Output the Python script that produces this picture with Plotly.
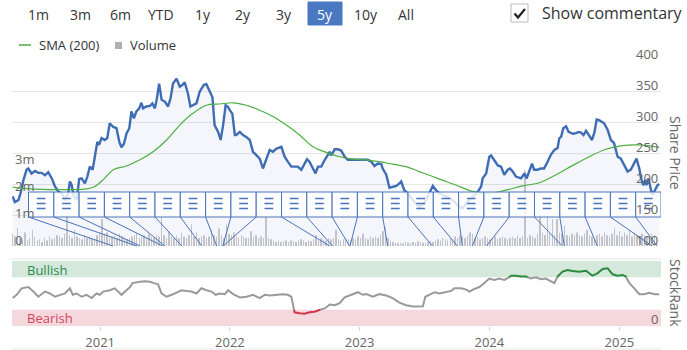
import plotly.graph_objects as go
import pandas as pd

# ---------------- DATA ----------------
price_dates = ["2020-04-30","2020-05-06","2020-05-16","2020-05-22","2020-05-30","2020-06-08","2020-06-13","2020-06-22",
"2020-07-02","2020-07-11","2020-07-20","2020-07-30","2020-08-08","2020-08-18","2020-08-27","2020-09-05","2020-09-15",
"2020-09-24","2020-10-03","2020-10-08","2020-10-13","2020-10-19","2020-10-27","2020-11-03","2020-11-10","2020-11-19",
"2020-11-26","2020-12-03","2020-12-11","2020-12-17","2020-12-24","2020-12-29","2021-01-05","2021-01-14","2021-01-21",
"2021-01-28","2021-02-07","2021-02-16","2021-02-24","2021-03-02","2021-03-09","2021-03-16","2021-03-24","2021-03-30",
"2021-04-06","2021-04-13","2021-04-21","2021-04-27","2021-05-02","2021-05-11","2021-05-21","2021-05-28","2021-06-04",
"2021-06-09","2021-06-16","2021-06-23","2021-07-02","2021-07-11","2021-07-18","2021-07-25","2021-08-04","2021-08-13",
"2021-08-21","2021-08-27","2021-09-05","2021-09-12","2021-09-19","2021-09-29","2021-10-08","2021-10-20","2021-10-27",
"2021-11-05","2021-11-13","2021-11-19","2021-11-29","2021-12-06","2021-12-13","2021-12-20","2021-12-27","2022-01-01",
"2022-01-08","2022-01-15","2022-01-19","2022-01-29","2022-02-07","2022-02-16","2022-02-26","2022-03-07","2022-03-17",
"2022-03-26","2022-04-04","2022-04-14","2022-04-23","2022-05-02","2022-05-12","2022-05-26","2022-06-04","2022-06-13",
"2022-06-23","2022-07-02","2022-07-11","2022-07-21","2022-07-30","2022-08-06","2022-08-13","2022-08-21","2022-08-30",
"2022-09-06","2022-09-15","2022-09-25","2022-10-01","2022-10-09","2022-10-13","2022-10-23","2022-11-01","2022-11-10",
"2022-11-20","2022-11-29","2022-12-09","2022-12-18","2022-12-27","2023-01-06","2023-01-15","2023-01-24","2023-02-03",
"2023-02-12","2023-02-21","2023-03-03","2023-03-07","2023-03-17","2023-03-26","2023-04-04","2023-04-14","2023-04-23",
"2023-04-28","2023-05-03","2023-05-07","2023-05-16","2023-05-31","2023-06-18","2023-07-02","2023-07-16","2023-07-26",
"2023-08-04","2023-08-14","2023-09-01","2023-09-20","2023-10-09","2023-10-18","2023-10-28","2023-11-15","2023-11-30",
"2023-12-09","2023-12-13","2023-12-23","2024-01-01","2024-01-06","2024-01-15","2024-01-25","2024-02-03","2024-02-12",
"2024-02-22","2024-02-28","2024-03-07","2024-03-16","2024-03-30","2024-04-09","2024-04-15","2024-04-22","2024-04-30",
"2024-05-06","2024-05-16","2024-05-25","2024-06-03","2024-06-13","2024-06-22","2024-07-02","2024-07-11","2024-07-16",
"2024-07-21","2024-07-27","2024-08-04","2024-08-11","2024-08-23","2024-09-01","2024-09-08","2024-09-15","2024-09-22",
"2024-09-29","2024-10-07","2024-10-16","2024-10-23","2024-10-29","2024-11-05","2024-11-19","2024-11-29","2024-12-08",
"2024-12-17","2024-12-27","2025-01-05","2025-01-14","2025-01-24","2025-02-02","2025-02-11","2025-02-18","2025-02-26",
"2025-03-03","2025-03-09","2025-03-15","2025-03-18","2025-03-24","2025-03-31","2025-04-04","2025-04-09","2025-04-18",
"2025-04-23"]
price_values = [180,171,174,185,206,223,225,217,221,218,218,214,219,209,196,188,185,174,185,204,198,180,174,208,209,201,
212,228,223,244,268,263,274,271,274,298,292,290,268,259,265,281,290,317,306,317,322,331,322,325,326,330,322,336,362,336,
333,325,338,362,370,357,360,364,346,325,327,330,349,360,361,351,340,295,284,271,295,327,324,319,313,279,279,284,279,276,
271,252,247,241,225,241,255,252,257,260,244,236,228,228,228,223,233,240,236,228,217,228,228,239,244,252,246,256,256,254,
244,239,239,239,240,239,240,239,236,229,233,232,225,215,194,196,197,201,204,196,190,185,174,163,169,185,197,190,185,180,
174,163,161,169,180,188,196,209,217,244,246,239,230,228,215,223,225,220,212,209,217,209,219,233,223,223,225,225,236,247,
255,258,274,276,290,293,284,281,282,284,283,279,286,279,271,284,304,303,298,287,271,266,244,241,230,220,223,233,241,225,
209,198,207,198,209,190,182,188,198,200]

sma_dates = ["2020-04-30","2020-06-18","2020-08-13","2020-10-08","2020-11-24","2020-12-17","2021-01-10","2021-02-07",
"2021-03-16","2021-04-23","2021-05-30","2021-07-07","2021-08-13","2021-09-19","2021-10-27","2021-12-03","2022-01-10",
"2022-02-16","2022-03-26","2022-05-02","2022-06-09","2022-07-16","2022-08-23","2022-09-29","2022-11-06","2022-12-13",
"2023-01-20","2023-02-26","2023-04-04","2023-05-12","2023-06-18","2023-07-26","2023-09-11","2023-09-30","2023-11-15",
"2024-01-01","2024-02-17","2024-04-04","2024-05-21","2024-07-07","2024-08-23","2024-10-08","2024-11-24","2025-01-10",
"2025-02-26","2025-04-23"]
sma_values = [195,192,191,191,192,196,207,223,229,239,252,271,295,314,327,329,331,327,319,309,295,279,260,251,244,240,
239,236,232,228,220,212,202,198,188,185,190,197,202,215,230,244,256,262,263,259]

volume_start = "2020-04-29"   # weekly volume, in millions
volume_m = [
0.45,0.35,0.67,0.30,0.25,0.50,0.20,0.30,0.60,0.35,0.20,0.25,0.15,0.30,0.20,0.35,0.25,0.30,0.40,0.35,0.30,0.45,1.10,0.40,0.30,0.60,
0.35,0.30,0.25,0.40,0.30,0.35,0.30,0.25,0.40,0.50,1.00,0.45,0.50,0.30,0.35,0.40,0.30,0.45,0.35,0.30,0.25,0.30,0.35,0.40,0.45,0.30,
0.35,0.40,0.30,0.45,0.35,0.30,0.40,0.35,1.10,0.40,0.30,0.55,0.35,0.30,0.40,0.30,0.50,0.35,0.30,0.40,0.80,0.35,0.50,0.30,0.35,0.40,
0.30,0.35,0.60,0.40,0.35,0.65,0.40,0.30,0.80,0.45,0.40,0.50,0.35,0.30,0.40,0.35,0.30,0.30,0.55,0.35,0.40,0.30,0.35,0.30,1.10,0.30,
0.25,0.20,0.15,0.20,0.15,0.18,0.20,0.15,0.20,0.18,0.15,0.20,0.25,0.20,0.15,0.20,0.18,0.25,0.40,0.20,0.30,0.25,0.20,0.30,0.25,0.30,
0.60,0.25,0.20,0.25,0.30,0.25,0.20,0.30,0.25,0.35,0.30,0.45,0.30,0.25,0.35,0.30,0.35,0.30,0.40,0.55,0.70,0.30,0.20,0.15,0.12,0.10,
0.12,0.10,0.15,0.12,0.10,0.15,0.12,0.18,0.15,0.12,0.10,0.15,0.20,0.15,0.20,0.25,0.20,0.30,0.25,0.20,0.30,0.25,0.35,0.30,0.40,0.35,
0.30,0.40,0.50,0.45,0.30,0.35,0.25,0.30,0.35,0.30,0.25,0.30,0.35,0.25,0.30,0.35,0.30,0.25,0.30,0.35,0.30,0.40,0.30,0.35,2.80,0.30,
0.40,0.35,0.30,0.45,1.10,0.50,0.40,1.10,0.45,1.00,0.40,1.00,0.50,0.45,0.75,0.40,0.35,0.45,0.40,0.50,0.40,0.35,0.45,0.60,0.40,0.35,
0.30,0.40,0.45,0.35,0.50,0.40,0.35,0.45,0.65,0.40,0.55,0.35,0.50,0.40,0.60,0.35,0.50,0.40,0.35,0.45,0.40,0.35,0.40,0.45,0.40]

sr_dates = ["2020-04-30","2020-05-11","2020-05-25","2020-06-13","2020-06-27","2020-07-11","2020-07-30","2020-08-13",
"2020-08-27","2020-09-15","2020-09-24","2020-10-08","2020-10-16","2020-10-27","2020-11-10","2020-11-24","2020-12-08",
"2020-12-22","2020-12-31","2021-01-10","2021-01-28","2021-02-11","2021-02-21","2021-03-02","2021-03-16","2021-03-26",
"2021-04-02","2021-04-09","2021-04-23","2021-05-07","2021-05-21","2021-06-01","2021-06-13","2021-06-23","2021-07-07",
"2021-07-21","2021-08-04","2021-08-18","2021-09-01","2021-09-15","2021-09-29","2021-10-13","2021-10-27","2021-11-10",
"2021-11-22","2021-12-03","2021-12-18","2021-12-27","2022-01-10","2022-01-29","2022-02-17","2022-03-07","2022-03-26",
"2022-04-09","2022-04-23","2022-05-12","2022-05-30","2022-06-13","2022-06-23","2022-07-02","2022-07-16","2022-07-30",
"2022-08-13","2022-08-27","2022-09-10","2022-09-25","2022-10-09","2022-10-23","2022-11-06","2022-11-20","2022-12-09",
"2022-12-27","2023-01-10","2023-01-20","2023-02-07","2023-02-26","2023-03-17","2023-04-04","2023-04-23","2023-05-12",
"2023-05-31","2023-06-18","2023-06-28","2023-07-05","2023-07-17","2023-07-31","2023-08-14","2023-09-01","2023-09-16",
"2023-09-25","2023-10-14","2023-10-28","2023-11-06","2023-11-20","2023-12-04","2023-12-18","2024-01-01","2024-01-15",
"2024-01-29","2024-02-12","2024-02-22","2024-03-02","2024-03-16","2024-03-30","2024-04-13","2024-04-27","2024-05-11",
"2024-05-25","2024-06-08","2024-06-23","2024-07-02","2024-07-11","2024-07-25","2024-08-08","2024-08-22","2024-09-10",
"2024-09-29","2024-10-17","2024-10-31","2024-11-15","2024-11-29","2024-12-13","2024-12-27","2025-01-10","2025-01-19",
"2025-01-29","2025-02-12","2025-02-26","2025-03-12","2025-03-26","2025-04-09","2025-04-23"]
sr_values = [43,48,58,60,53,45,53,50,45,48,50,58,48,50,45,48,43,50,48,53,55,58,53,48,55,60,66,67,68,69,68,66,64,50,45,
48,52,55,54,53,50,58,55,53,48,50,49,55,49,44,45,48,43,48,47,48,49,48,45,21,19.5,19,21,22,24.6,27,33,32,35,44,48,52,48,
49,45,49,47,43,36,32,30,30,30.5,45,48,52,50,52,54,58,58,56,53,57,60,66,73,71,73,71,73,77.4,77.4,76,76,73,75,72,73,69,66,
76,83.6,86,84.6,83.6,85,77.4,81,87.7,88.7,79.5,77.4,78.5,76,66,58,49,49,51,49,49]

commentary_dates = ["2021-02-06","2021-04-14","2021-04-23","2021-06-26","2021-07-02","2021-08-19","2021-10-14",
"2021-11-25","2021-12-12","2021-12-13","2022-10-09","2022-10-17","2022-12-04","2022-12-05","2023-03-21","2023-07-25",
"2023-10-03","2023-10-17","2023-11-14","2023-12-24","2024-07-24","2024-07-30","2024-10-31","2025-04-03","2025-04-17"]

year_labels = ["2021", "2022", "2023", "2024", "2025"]
range_buttons = ["1m", "3m", "6m", "YTD", "1y", "2y", "3y", "5y", "10y", "All"]
selected_range = "5y"
price_ticks = [100, 150, 200, 250, 300, 350, 400]
volume_ticks = [0, 1, 2, 3]
volume_tick_text = ["0", "1m", "2m", "3m"]
rank_ticks = [0]
bullish_level, bearish_level = 75, 25

# ---------------- LAYOUT GEOMETRY ----------------
W, H = 687, 350
PL, PR = 12, 661
P_TOP, P_BOT = 60, 246          # pixel rows of price 400 / 100
S_TOP, S_BOT = 261, 326         # pixel rows of rank 100 / 0
X0, X1 = pd.Timestamp("2020-04-28"), pd.Timestamp("2025-04-28")
FONT = "Open Sans"
BLUE = "#3f6db5"
FLAG_BLUE = "#4a74bb"
VOL_PX = 27.0                   # px per million shares
LABEL_LIFT = 6


def px(x):
    return x / W


def py(y):
    return 1 - y / H


def px_to_date(x):
    return X0 + (X1 - X0) * ((x - PL) / (PR - PL))


fig = go.Figure()

# volume (base axis y)
vol_dates = pd.date_range(volume_start, periods=len(volume_m), freq="7D")
fig.add_trace(go.Bar(x=vol_dates, y=volume_m, marker=dict(color="#c9c9c9", line=dict(width=0)),
                     width=1.3 * 24 * 3600 * 1000, xaxis="x", yaxis="y", showlegend=False, hoverinfo="skip"))

# price area + line (overlay axis y2)
fig.add_trace(go.Scatter(x=[price_dates[0], price_dates[-1]], y=[price_ticks[0]] * 2, mode="lines",
                         line=dict(width=0), xaxis="x", yaxis="y2", showlegend=False, hoverinfo="skip"))
fig.add_trace(go.Scatter(x=price_dates, y=price_values, mode="lines", line=dict(color=BLUE, width=2.4),
                         fill="tonexty", fillcolor="rgba(63,109,181,0.06)", xaxis="x", yaxis="y2",
                         showlegend=False))
fig.add_trace(go.Scatter(x=sma_dates, y=sma_values, mode="lines",
                         line=dict(color="#4caf40", width=1.2, shape="spline"),
                         xaxis="x", yaxis="y2", showlegend=False))

# stockrank with coloured zones
sr_t = [pd.Timestamp(d) for d in sr_dates]


def zone_series(lo, hi):
    xs, ys = [], []
    for i in range(len(sr_values)):
        v = sr_values[i]
        inside = lo <= v <= hi
        if i > 0:
            pv = sr_values[i - 1]
            pin = lo <= pv <= hi
            if pin != inside:
                lvl = lo if (min(pv, v) < lo <= max(pv, v)) else hi
                f = (lvl - pv) / (v - pv)
                tc = sr_t[i - 1] + (sr_t[i] - sr_t[i - 1]) * f
                xs.append(tc); ys.append(lvl)
                if not inside:
                    xs.append(None); ys.append(None)
        if inside:
            xs.append(sr_t[i]); ys.append(v)
    return xs, ys


gx, gy = zone_series(bearish_level, bullish_level)
fig.add_trace(go.Scatter(x=gx, y=gy, mode="lines", line=dict(color="#9a9a9a", width=2), xaxis="x2", yaxis="y3",
                         showlegend=False, connectgaps=False))
bx, by = zone_series(bullish_level, 100)
fig.add_trace(go.Scatter(x=bx, y=by, mode="lines", line=dict(color="#2b8a3e", width=2), xaxis="x2", yaxis="y3",
                         showlegend=False, connectgaps=False))
rx, ry = zone_series(0, bearish_level)
fig.add_trace(go.Scatter(x=rx, y=ry, mode="lines", line=dict(color="#d0364f", width=2), xaxis="x2", yaxis="y3",
                         showlegend=False, connectgaps=False))

shapes = []
annotations = []
tick_font = dict(family=FONT, size=13, color="#666666")

# stockrank bands
shapes.append(dict(type="rect", xref="x2 domain", yref="y3", x0=0, x1=1, y0=bullish_level, y1=100,
                   fillcolor="#d4e8dc", line=dict(width=0), layer="below"))
shapes.append(dict(type="rect", xref="x2 domain", yref="y3", x0=0, x1=1, y0=0, y1=bearish_level,
                   fillcolor="#f5d8db", line=dict(width=0), layer="below"))
annotations.append(dict(text="Bullish", xref="paper", yref="paper", x=px(25), y=py(270), xanchor="left",
                        yanchor="middle", showarrow=False, font=dict(family=FONT, size=13, color="#2e8b4e")))
annotations.append(dict(text="Bearish", xref="paper", yref="paper", x=px(25), y=py(318), xanchor="left",
                        yanchor="middle", showarrow=False, font=dict(family=FONT, size=13, color="#d2465e")))

# pane separator lines
shapes.append(dict(type="line", xref="paper", yref="paper", x0=px(PL), x1=px(PR), y0=py(259), y1=py(259),
                   line=dict(color="#e6e6e6", width=1)))
shapes.append(dict(type="line", xref="paper", yref="paper", x0=px(PL), x1=px(PR), y0=py(349), y1=py(349),
                   line=dict(color="#e6e6e6", width=1)))

# commentary flags
n = len(commentary_dates)
BOX_W = 25.3
BOX_T, BOX_B = 192, 217
for i, d in enumerate(sorted(commentary_dates)):
    left_px = PR - (n - i) * BOX_W
    l = px_to_date(left_px)
    r = px_to_date(left_px + BOX_W)
    shapes.append(dict(type="line", xref="x", yref="paper", x0=pd.Timestamp(d), y0=py(P_BOT), x1=l, y1=py(BOX_B),
                       line=dict(color=FLAG_BLUE, width=1), layer="above"))
    shapes.append(dict(type="rect", xref="x", yref="paper", x0=l, x1=r, y0=py(BOX_B), y1=py(BOX_T),
                       fillcolor="rgba(255,255,255,0.82)", line=dict(color=FLAG_BLUE, width=1), layer="above"))
    for yy in (198.5, 203.5, 208.5):
        shapes.append(dict(type="line", xref="x", yref="paper", x0=px_to_date(left_px + 8.3),
                           x1=px_to_date(left_px + 17), y0=py(yy), y1=py(yy),
                           line=dict(color=FLAG_BLUE, width=1.5), layer="above"))

# axis tick labels (drawn as annotations on the axes so they sit above the flags)
for v in price_ticks:
    annotations.append(dict(text=str(v), xref="paper", yref="y2", x=px(PR - 1), y=v, yshift=LABEL_LIFT,
                            xanchor="right", yanchor="middle", showarrow=False, font=tick_font))
for v, t in zip(volume_ticks, volume_tick_text):
    annotations.append(dict(text=t, xref="paper", yref="y", x=px(PL + 1), y=v, yshift=LABEL_LIFT,
                            xanchor="left", yanchor="middle", showarrow=False, font=tick_font))
for v in rank_ticks:
    annotations.append(dict(text=str(v), xref="paper", yref="y3", x=px(PR - 1), y=v, yshift=LABEL_LIFT + 1,
                            xanchor="right", yanchor="middle", showarrow=False, font=tick_font))

# legend
shapes.append(dict(type="line", xref="paper", yref="paper", x0=px(19), x1=px(31), y0=py(45), y1=py(45),
                   line=dict(color="#4caf40", width=1.5)))
annotations.append(dict(text="SMA (200)", xref="paper", yref="paper", x=px(37), y=py(45), xanchor="left",
                        yanchor="middle", showarrow=False, font=dict(family=FONT, size=13, color="#333333")))
shapes.append(dict(type="rect", xref="paper", yref="paper", x0=px(115), x1=px(122), y0=py(49), y1=py(42),
                   fillcolor="#b0b0b0", line=dict(width=0)))
annotations.append(dict(text="Volume", xref="paper", yref="paper", x=px(128), y=py(45), xanchor="left",
                        yanchor="middle", showarrow=False, font=dict(family=FONT, size=13, color="#333333")))

# range selector buttons
btn_centers = [38, 80, 120, 161, 203, 243, 284, 325, 366, 406]
for lab, cx in zip(range_buttons, btn_centers):
    sel = lab == selected_range
    if sel:
        shapes.append(dict(type="rect", xref="paper", yref="paper", x0=px(cx - 17), x1=px(cx + 17),
                           y0=py(25), y1=py(2), fillcolor="#4a78c2", line=dict(color="#4a78c2", width=1)))
    annotations.append(dict(text=lab, xref="paper", yref="paper", x=px(cx), y=py(14), xanchor="center",
                            yanchor="middle", showarrow=False,
                            font=dict(family=FONT, size=14, color="#ffffff" if sel else "#333333")))

# show commentary checkbox
shapes.append(dict(type="rect", xref="paper", yref="paper", x0=px(511), x1=px(528), y0=py(22), y1=py(4),
                   fillcolor="#ffffff", line=dict(color="#bbbbbb", width=1)))
shapes.append(dict(type="path", xref="paper", yref="paper",
                   path=f"M {px(514.5)} {py(13.5)} L {px(518)} {py(17.5)} L {px(525)} {py(9)}",
                   line=dict(color="#222222", width=2.2)))
annotations.append(dict(text="Show commentary", xref="paper", yref="paper", x=px(540), y=py(13), xanchor="left",
                        yanchor="middle", showarrow=False, font=dict(family=FONT, size=16, color="#333333")))

# axis titles
annotations.append(dict(text="Share Price", xref="paper", yref="paper", x=px(676), y=py(153), xanchor="center",
                        yanchor="middle", textangle=90, showarrow=False,
                        font=dict(family=FONT, size=14, color="#666666")))
annotations.append(dict(text="StockRank", xref="paper", yref="paper", x=px(676), y=py(293), xanchor="center",
                        yanchor="middle", textangle=90, showarrow=False,
                        font=dict(family=FONT, size=14, color="#666666")))

dom_x = [px(PL), px(PR)]
year_ticks = [pd.Timestamp(f"{y}-01-01") for y in year_labels]

fig.update_layout(
    width=W, height=H, margin=dict(l=0, r=0, t=0, b=0),
    paper_bgcolor="#ffffff", plot_bgcolor="rgba(0,0,0,0)",
    font=dict(family=FONT, color="#666666"),
    xaxis=dict(domain=dom_x, anchor="y", range=[X0, X1], showticklabels=False, showgrid=False,
               zeroline=False, ticks="", showline=False),
    xaxis2=dict(domain=dom_x, anchor="y3", matches="x", range=[X0, X1], tickvals=year_ticks, ticktext=year_labels,
                ticks="outside", ticklen=4, tickcolor="#ccd6eb", showgrid=False, zeroline=False, showline=False,
                tickfont=tick_font),
    yaxis=dict(domain=[py(P_BOT), py(P_TOP)], anchor="x", side="left", range=[0, (P_BOT - P_TOP) / VOL_PX],
               showticklabels=False, showgrid=False, zeroline=False, showline=False, ticks=""),
    yaxis2=dict(anchor="x", overlaying="y", side="right", range=[price_ticks[0], price_ticks[-1]],
                tickvals=price_ticks, showticklabels=False, showgrid=True, gridcolor="#e6e6e6", gridwidth=1,
                zeroline=False, showline=False, ticks=""),
    yaxis3=dict(domain=[py(S_BOT), py(S_TOP)], anchor="x2", side="right", range=[0, 100],
                showticklabels=False, showgrid=False, zeroline=False, showline=False, ticks=""),
    shapes=shapes, annotations=annotations, showlegend=False,
)

fig.write_html("out.html")
